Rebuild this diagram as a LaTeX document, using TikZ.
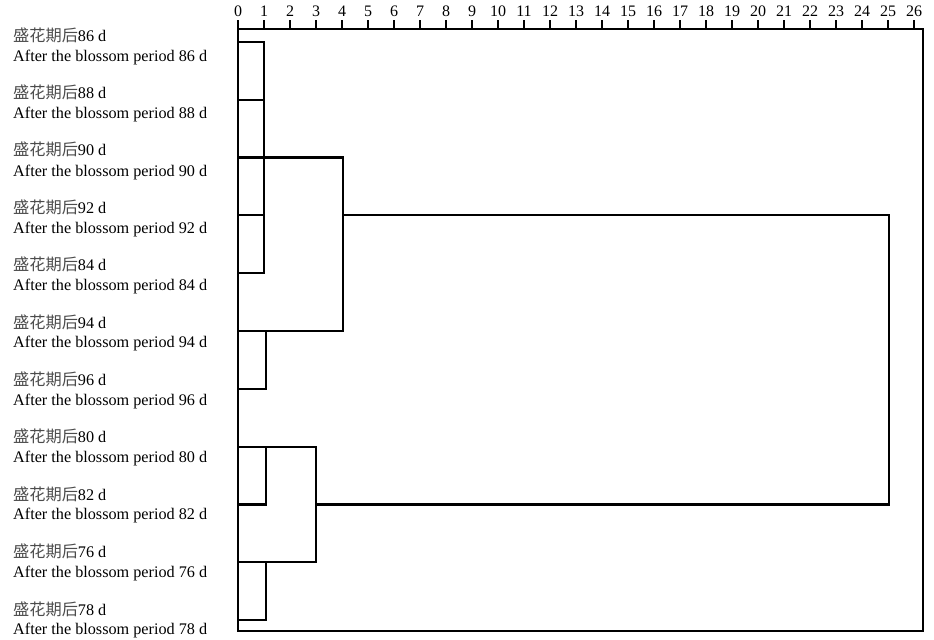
\documentclass[tikz,border=0pt]{standalone}
\usepackage{fontspec}
\setmainfont{Liberation Serif}
\newfontfamily\cjk{Noto Sans CJK SC}
\tikzset{
  lbl/.style={anchor=west, inner sep=0pt, font=\fontsize{16.2bp}{19bp}\selectfont},
  tnum/.style={anchor=center, inner sep=0pt, font=\fontsize{16bp}{19bp}\selectfont},
  dline/.style={line width=2.2bp, line join=miter, line cap=rect}
}
\begin{document}
\begin{tikzpicture}[x=1bp, y=-1bp]
\useasboundingbox (0,0) rectangle (934,640);
% labels and leaves
\foreach \d [count=\i from 0] in {86,88,90,92,84,94,96,80,82,76,78} {
  \node[lbl] (c\d) at (13, 35+57.4*\i) {{\cjk\color{black!70}盛花期后}\d\ d};
  \node[lbl] (e\d) at (13, 57.5+57.3*\i) {After the blossom period \d\ d};
  \coordinate (l\d) at (238, 42+57.8*\i);
}
% merge x positions
\coordinate (xa) at (264,0);
\coordinate (xb) at (266,0);
\coordinate (xc) at (343,0);
\coordinate (xd) at (316,0);
\coordinate (xe) at (889,0);
% frame and axis
\coordinate (f1) at (238,29);
\coordinate (f2) at (923,631);
\draw[dline] (f1) rectangle (f2);
\foreach \v in {0,...,26} {
  \coordinate (t\v) at (238+26*\v,29);
  \draw[dline] (t\v) -- ++(0,-8) node[tnum, pos=1, yshift=10bp] (n\v) {\v};
}
% cluster A
\draw[dline] (l86) -- (l86 -| xa) |- (l84);
\draw[dline] (l88) -- (l88 -| xa);
\draw[dline] (l90) -- (l90 -| xa);
\draw[dline] (l92) -- (l92 -| xa);
% 94/96
\draw[dline] (l94) -- (l94 -| xb) |- (l96);
% join A + (94,96)
\draw[dline] (l90 -| xa) -- (l90 -| xc) |- (l94);
% 80/82, 76/78
\draw[dline] (l80) -- (l80 -| xb) |- (l82);
\draw[dline] (l76) -- (l76 -| xb) |- (l78);
\draw[dline] (l80 -| xb) -- (l80 -| xd) |- (l76);
% top
\draw[dline] (l92 -| xc) -- (l92 -| xe) |- (l82 -| xd);
\end{tikzpicture}
\end{document}
